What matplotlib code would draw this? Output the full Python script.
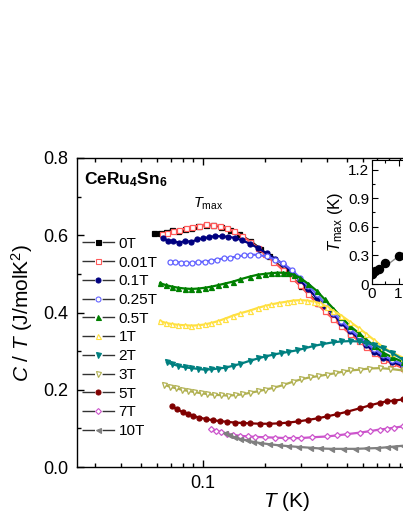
import numpy as np
import matplotlib
matplotlib.use("Agg")
import matplotlib.pyplot as plt
from matplotlib.lines import Line2D
from matplotlib.ticker import MultipleLocator, FixedLocator, NullFormatter

plt.rcParams['font.family'] = ['Liberation Sans', 'DejaVu Sans']
plt.rcParams['mathtext.fontset'] = 'custom'
plt.rcParams['mathtext.rm'] = 'Liberation Sans'
plt.rcParams['mathtext.it'] = 'Liberation Sans:italic'
plt.rcParams['mathtext.bf'] = 'Liberation Sans:bold'

# ---- data: C/T (J/molK^2) vs T (K) ----
labels = ['0T', '0.01T', '0.1T', '0.25T', '0.5T', '1T', '2T', '3T', '5T', '7T', '10T']

T_0T = [0.058, 0.062, 0.066, 0.071, 0.076, 0.082, 0.088, 0.095, 0.103, 0.112, 0.122, 0.135, 0.15, 0.17,
        0.19, 0.21, 0.25, 0.3, 0.36, 0.43, 0.52, 0.62, 0.75, 0.935]
C_0T = [0.607, 0.606, 0.609, 0.613, 0.612, 0.616, 0.62, 0.624, 0.627, 0.626, 0.622, 0.614, 0.603, 0.585,
        0.565, 0.545, 0.508, 0.468, 0.425, 0.385, 0.347, 0.312, 0.28, 0.258]

T_001 = [0.063, 0.067, 0.072, 0.077, 0.083, 0.089, 0.096, 0.104, 0.112, 0.121, 0.131, 0.142, 0.155, 0.17,
         0.185, 0.2, 0.22, 0.245, 0.27, 0.296, 0.325, 0.357, 0.39, 0.43, 0.47, 0.517, 0.57, 0.62, 0.68,
         0.75, 0.83, 0.935]
C_001 = [0.603, 0.607, 0.61, 0.613, 0.618, 0.622, 0.625, 0.628, 0.627, 0.624, 0.618, 0.61, 0.598, 0.583,
         0.567, 0.551, 0.532, 0.51, 0.49, 0.47, 0.447, 0.424, 0.403, 0.383, 0.364, 0.345, 0.327, 0.31, 0.294,
         0.278, 0.268, 0.256]

T_01 = [0.064, 0.068, 0.072, 0.077, 0.082, 0.088, 0.094, 0.1, 0.107, 0.115, 0.124, 0.133, 0.143, 0.155,
        0.169, 0.185, 0.204, 0.225, 0.245, 0.27, 0.296, 0.325, 0.357, 0.39, 0.43, 0.47, 0.517, 0.57, 0.62,
        0.68, 0.75, 0.83, 0.935]
C_01 = [0.592, 0.586, 0.584, 0.581, 0.585, 0.583, 0.589, 0.592, 0.595, 0.598, 0.597, 0.596, 0.593, 0.587,
        0.578, 0.567, 0.553, 0.539, 0.525, 0.505, 0.483, 0.461, 0.437, 0.416, 0.395, 0.372, 0.352, 0.333,
        0.316, 0.298, 0.283, 0.272, 0.262]

T_025 = [0.069, 0.073, 0.078, 0.083, 0.089, 0.095, 0.102, 0.109, 0.117, 0.126, 0.136, 0.147, 0.158, 0.169,
         0.185, 0.204, 0.225, 0.245, 0.27, 0.296, 0.325, 0.357, 0.39, 0.43, 0.47, 0.517, 0.57, 0.62, 0.68,
         0.75, 0.83, 0.935]
C_025 = [0.532, 0.531, 0.529, 0.528, 0.529, 0.53, 0.532, 0.534, 0.537, 0.54, 0.542, 0.545, 0.548, 0.55,
         0.549, 0.545, 0.537, 0.527, 0.51, 0.49, 0.469, 0.447, 0.424, 0.4, 0.378, 0.357, 0.338, 0.322, 0.305,
         0.289, 0.277, 0.266]

T_05 = [0.062, 0.066, 0.071, 0.076, 0.082, 0.088, 0.095, 0.102, 0.11, 0.119, 0.128, 0.14, 0.152, 0.169,
        0.185, 0.2, 0.215, 0.23, 0.245, 0.26, 0.278, 0.296, 0.325, 0.357, 0.39, 0.43, 0.47, 0.517, 0.57,
        0.62, 0.68, 0.75, 0.83, 0.935]
C_05 = [0.476, 0.471, 0.467, 0.464, 0.462, 0.461, 0.462, 0.464, 0.467, 0.471, 0.475, 0.48, 0.486, 0.493,
        0.498, 0.5, 0.502, 0.503, 0.503, 0.502, 0.497, 0.49, 0.474, 0.456, 0.434, 0.41, 0.388, 0.365, 0.347,
        0.33, 0.313, 0.296, 0.284, 0.272]

T_1 = [0.062, 0.066, 0.071, 0.076, 0.082, 0.088, 0.095, 0.102, 0.11, 0.119, 0.128, 0.14, 0.152, 0.169,
       0.185, 0.2, 0.215, 0.235, 0.255, 0.275, 0.296, 0.32, 0.345, 0.37, 0.4, 0.43, 0.47, 0.517, 0.57,
       0.62, 0.68, 0.75, 0.83, 0.935]
C_1 = [0.378, 0.373, 0.37, 0.368, 0.367, 0.366, 0.367, 0.369, 0.373, 0.378, 0.384, 0.392, 0.398, 0.405,
       0.412, 0.417, 0.421, 0.425, 0.428, 0.431, 0.432, 0.431, 0.428, 0.424, 0.415, 0.404, 0.392, 0.376,
       0.36, 0.345, 0.328, 0.31, 0.296, 0.283]

T_2 = [0.067, 0.071, 0.076, 0.082, 0.088, 0.095, 0.102, 0.11, 0.119, 0.128, 0.14, 0.152, 0.169, 0.185,
       0.2, 0.22, 0.24, 0.26, 0.285, 0.31, 0.343, 0.38, 0.43, 0.47, 0.517, 0.57, 0.62, 0.68, 0.75, 0.83, 0.935]
C_2 = [0.271, 0.266, 0.262, 0.258, 0.256, 0.254, 0.252, 0.253, 0.255, 0.257, 0.262, 0.267, 0.275, 0.281,
       0.286, 0.291, 0.295, 0.298, 0.302, 0.307, 0.313, 0.318, 0.323, 0.325, 0.326, 0.325, 0.322, 0.316,
       0.307, 0.295, 0.278]

T_3 = [0.065, 0.069, 0.074, 0.079, 0.085, 0.091, 0.098, 0.105, 0.113, 0.122, 0.132, 0.143, 0.155, 0.169,
       0.185, 0.2, 0.22, 0.245, 0.274, 0.3, 0.33, 0.36, 0.398, 0.44, 0.48, 0.52, 0.577, 0.64, 0.725, 0.81, 0.935]
C_3 = [0.213, 0.208, 0.204, 0.2, 0.197, 0.194, 0.191, 0.189, 0.187, 0.186, 0.185, 0.186, 0.188, 0.192,
       0.196, 0.2, 0.205, 0.212, 0.221, 0.227, 0.232, 0.235, 0.239, 0.243, 0.247, 0.25, 0.252, 0.255,
       0.256, 0.254, 0.25]

T_5 = [0.071, 0.075, 0.08, 0.085, 0.09, 0.096, 0.104, 0.112, 0.121, 0.131, 0.143, 0.156, 0.17, 0.189,
       0.21, 0.235, 0.26, 0.29, 0.325, 0.36, 0.4, 0.45, 0.5, 0.577, 0.65, 0.72, 0.78, 0.85, 0.935]
C_5 = [0.157, 0.149, 0.142, 0.137, 0.132, 0.128, 0.124, 0.121, 0.119, 0.117, 0.115, 0.114, 0.113, 0.112,
       0.112, 0.113, 0.115, 0.118, 0.122, 0.126, 0.131, 0.137, 0.143, 0.152, 0.16, 0.166, 0.17, 0.172, 0.175]

T_7 = [0.11, 0.116, 0.123, 0.131, 0.14, 0.151, 0.165, 0.18, 0.2, 0.225, 0.25, 0.274, 0.3, 0.34, 0.398,
       0.45, 0.5, 0.577, 0.65, 0.72, 0.78, 0.85, 0.935]
C_7 = [0.099, 0.094, 0.09, 0.086, 0.083, 0.081, 0.079, 0.078, 0.077, 0.076, 0.075, 0.075, 0.075, 0.077,
       0.079, 0.082, 0.085, 0.089, 0.093, 0.097, 0.099, 0.102, 0.105]

T_10 = [0.128, 0.134, 0.141, 0.151, 0.163, 0.176, 0.19, 0.21, 0.235, 0.26, 0.29, 0.33, 0.37, 0.42, 0.48,
        0.55, 0.62, 0.7, 0.78, 0.85, 0.935]
C_10 = [0.088, 0.083, 0.078, 0.073, 0.069, 0.065, 0.062, 0.059, 0.056, 0.054, 0.052, 0.05, 0.048, 0.047,
        0.047, 0.047, 0.048, 0.049, 0.051, 0.053, 0.055]

# inset: T_max vs field
B_field = [0, 0.01, 0.1, 0.25, 0.5, 1.0]
T_max = [0.11, 0.11, 0.14, 0.16, 0.22, 0.29]
fit_B = [0, 3]
fit_T = [0.08, 0.71]

series = [(T_0T, C_0T), (T_001, C_001), (T_01, C_01), (T_025, C_025), (T_05, C_05), (T_1, C_1),
          (T_2, C_2), (T_3, C_3), (T_5, C_5), (T_7, C_7), (T_10, C_10)]
colors = ['#000000', '#ff5a5a', '#000080', '#6464ff', '#008000', '#ffe040',
          '#008080', '#b0b050', '#800000', '#cc55cc', '#808080']
markers = ['s', 's', 'o', 'o', '^', '^', 'v', 'v', 'o', 'D', '<']
filled = [True, False, True, False, True, False, True, False, True, False, True]

W, H = 403, 521
fig = plt.figure(figsize=(W / 100, H / 100), dpi=100)
ax = fig.add_axes([77 / W, (H - 467) / H, 394 / W, 309 / H])

for (t, c), col, mk, fl in zip(series, colors, markers, filled):
    ax.plot(t, c, color=col, lw=1.6, marker=mk, ms=3.6 if mk != 'D' else 3.0,
            mfc=col if fl else 'white', mec=col, mew=0.9)

ax.set_xscale('log')
ax.set_xlim(0.0245, 2.0)
ax.set_ylim(0.0, 0.8)
ax.yaxis.set_major_locator(MultipleLocator(0.2))
ax.yaxis.set_minor_locator(MultipleLocator(0.1))
ax.yaxis.set_major_formatter(plt.FormatStrFormatter('%.1f'))
ax.xaxis.set_major_locator(FixedLocator([0.1, 1.0]))
ax.xaxis.set_major_formatter(plt.FixedFormatter(['0.1', '']))
ax.xaxis.set_minor_formatter(NullFormatter())
ax.tick_params(which='both', direction='in', top=True, right=True, labelsize=13, width=1)
ax.tick_params(which='major', length=5, pad=6)
ax.tick_params(which='minor', length=3)
for sp in ax.spines.values():
    sp.set_linewidth(1.0)

ax.set_ylabel(r'$C$ / $T$ (J/molK$^2$)', fontsize=15, labelpad=6)
ax.set_xlabel(r'$T$ (K)', fontsize=15)
ax.xaxis.set_label_coords(0.533, -0.075)

fig.text(84 / W, 1 - 180 / H, r'$\mathbf{CeRu_4Sn_6}$', fontsize=12.5, va='center', ha='left')
ax.text(0.09, 0.672, r'$T_{\rm max}$', fontsize=10.5, ha='left')

# legend with dashed handle and symbol in the middle
handles = [Line2D([], [], color='#333333', lw=1.0, ls=(0, (9, 5.5)), marker=mk,
                  ms=3.6 if mk != 'D' else 3.0, mfc=col if fl else 'white', mec=col, mew=0.8)
           for col, mk, fl in zip(colors, markers, filled)]
ax.legend(handles, labels, loc='upper left', bbox_to_anchor=(5 / 394, 0.745), frameon=False,
          fontsize=11, handlelength=2.15, handletextpad=0.25, labelspacing=0.31,
          borderpad=0, borderaxespad=0)

# inset
axi = fig.add_axes([372 / W, (H - 284) / H, 106 / W, 124 / H])
axi.plot(fit_B, fit_T, color='#888888', lw=1.0)
axi.plot(B_field, T_max, 'o', color='black', ms=5.8)
axi.set_xlim(0, 4)
axi.set_ylim(0, 1.3)
axi.yaxis.set_major_locator(MultipleLocator(0.3))
axi.yaxis.set_minor_locator(MultipleLocator(0.15))
axi.xaxis.set_major_locator(MultipleLocator(1))
axi.xaxis.set_minor_locator(MultipleLocator(0.5))
axi.yaxis.set_major_formatter(plt.FuncFormatter(lambda v, p: '0' if v == 0 else '%.1f' % v))
axi.tick_params(which='both', direction='in', top=True, right=True, labelsize=11, width=0.8, pad=2)
axi.tick_params(which='major', length=4)
axi.tick_params(which='minor', length=2)
axi.set_ylabel(r'$T_{\rm max}$ (K)', fontsize=12, labelpad=2)

fig.savefig('out.png', dpi=100)
